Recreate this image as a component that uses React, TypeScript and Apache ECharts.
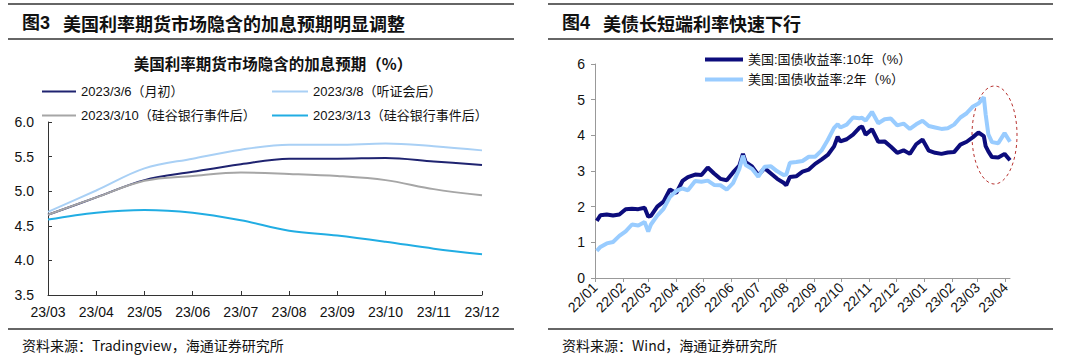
import React, { useEffect, useRef } from "react";
import * as echarts from "echarts";

// ---------- Left chart data (Fed funds futures implied rates, %) ----------
const months = ["23/03", "23/04", "23/05", "23/06", "23/07", "23/08", "23/09", "23/10", "23/11", "23/12"];
const exp0306 = [4.66, 4.91, 5.16, 5.28, 5.39, 5.47, 5.47, 5.48, 5.43, 5.38];
const exp0308 = [4.70, 5.01, 5.33, 5.47, 5.60, 5.67, 5.67, 5.69, 5.65, 5.59];
const exp0310 = [4.66, 4.91, 5.15, 5.22, 5.27, 5.25, 5.22, 5.16, 5.03, 4.94];
const exp0313 = [4.59, 4.69, 4.73, 4.69, 4.58, 4.43, 4.36, 4.27, 4.17, 4.09];
const leftNames = ["2023/3/6（月初）", "2023/3/8（听证会后）", "2023/3/10（硅谷银行事件后）", "2023/3/13（硅谷银行事件后）"];

// ---------- Right chart data (US Treasury yields, %) ----------
const yieldDates = [
  "2022-01-03", "2022-01-07", "2022-01-14", "2022-01-21", "2022-01-28", "2022-02-04", "2022-02-11", "2022-02-18",
  "2022-02-25", "2022-03-01", "2022-03-04", "2022-03-11", "2022-03-18", "2022-03-25", "2022-04-01", "2022-04-08",
  "2022-04-14", "2022-04-22", "2022-04-29", "2022-05-06", "2022-05-13", "2022-05-20", "2022-05-27", "2022-06-03",
  "2022-06-10", "2022-06-14", "2022-06-17", "2022-06-24", "2022-07-01", "2022-07-08", "2022-07-15", "2022-07-22",
  "2022-07-29", "2022-08-01", "2022-08-05", "2022-08-12", "2022-08-19", "2022-08-26", "2022-09-02", "2022-09-09",
  "2022-09-16", "2022-09-23", "2022-09-27", "2022-09-30", "2022-10-07", "2022-10-14", "2022-10-21", "2022-10-24",
  "2022-10-28", "2022-11-04", "2022-11-11", "2022-11-18", "2022-11-25", "2022-12-02", "2022-12-09", "2022-12-16",
  "2022-12-23", "2022-12-30", "2023-01-06", "2023-01-13", "2023-01-20", "2023-01-27", "2023-02-03", "2023-02-10",
  "2023-02-17", "2023-02-24", "2023-03-02", "2023-03-08", "2023-03-10", "2023-03-13", "2023-03-17", "2023-03-24",
  "2023-03-31", "2023-04-06",
];
const ust10y = [
  1.60, 1.76, 1.78, 1.75, 1.78, 1.93, 1.94, 1.93,
  1.97, 1.72, 1.74, 2.00, 2.14, 2.48, 2.38, 2.72,
  2.83, 2.90, 2.89, 3.10, 2.93, 2.78, 2.74, 2.96,
  3.15, 3.48, 3.25, 3.13, 2.88, 3.08, 2.93, 2.78,
  2.67, 2.60, 2.83, 2.85, 2.98, 3.04, 3.20, 3.32,
  3.45, 3.69, 3.96, 3.83, 3.89, 4.02, 4.21, 4.25,
  4.02, 4.17, 3.82, 3.83, 3.68, 3.51, 3.58, 3.48,
  3.75, 3.88, 3.57, 3.51, 3.48, 3.52, 3.53, 3.74,
  3.82, 3.95, 4.08, 3.98, 3.70, 3.55, 3.39, 3.38,
  3.48, 3.30,
];
const ust2y = [
  0.76, 0.87, 0.97, 1.01, 1.18, 1.31, 1.50, 1.47,
  1.57, 1.30, 1.50, 1.75, 1.94, 2.27, 2.44, 2.51,
  2.46, 2.72, 2.70, 2.73, 2.61, 2.60, 2.48, 2.66,
  3.06, 3.43, 3.17, 3.06, 2.84, 3.12, 3.13, 2.99,
  2.89, 2.90, 3.23, 3.25, 3.28, 3.40, 3.40, 3.57,
  3.87, 4.21, 4.31, 4.22, 4.30, 4.50, 4.48, 4.49,
  4.41, 4.66, 4.34, 4.45, 4.47, 4.28, 4.33, 4.18,
  4.31, 4.41, 4.26, 4.22, 4.18, 4.20, 4.30, 4.50,
  4.62, 4.81, 4.89, 5.07, 4.59, 4.03, 3.81, 3.78,
  4.06, 3.82,
];
const rightNames = ["美国:国债收益率:10年（%）", "美国:国债收益率:2年（%）"];

const toTs = (s: string) => {
  const [y, m, d] = s.split("-").map(Number);
  return Date.UTC(y, m - 1, d);
};

const FONT = "'Liberation Sans', 'Noto Sans CJK SC', sans-serif";
const CJK = "'Noto Sans CJK SC', 'Liberation Sans', sans-serif";

export default function App() {
  const ref = useRef<HTMLDivElement>(null);
  useEffect(() => {
    if (!ref.current) return;
    const chart = echarts.init(ref.current, undefined, { renderer: "svg" });
    const leftColors = ["#1f2370", "#a9d0f5", "#a6a6a6", "#21ade3"];
    const leftData = [exp0306, exp0308, exp0310, exp0313];
    const rule = (x1: number, x2: number, y: number, w = 1.3) => ({
      type: "line",
      shape: { x1, y1: y, x2, y2: y },
      style: { stroke: "#333", lineWidth: w },
      silent: true,
    });
    const txt = (x: number, y: number, text: string, fontSize: number, weight: any = "normal", align: any = "left", family = CJK) => ({
      type: "text",
      x,
      y,
      style: { text, fontSize, fontWeight: weight, fontFamily: family, fill: "#111", align, verticalAlign: "middle" },
      silent: true,
    });
    const option: any = {
      animation: false,
      useUTC: true,
      backgroundColor: "#fff",
      textStyle: { fontFamily: FONT },
      graphic: [
        rule(8, 514, 4),
        rule(8, 514, 39),
        rule(8, 514, 329),
        rule(548, 1053, 4),
        rule(548, 1053, 39),
        rule(548, 1053, 329),
        txt(22, 23, "图3", 18, "bold", "left", FONT),
        txt(63, 23, "美国利率期货市场隐含的加息预期明显调整", 18, "bold"),
        txt(562, 23, "图4", 18, "bold", "left", FONT),
        txt(603, 23, "美债长短端利率快速下行", 18, "bold"),
        txt(273, 63, "美国利率期货市场隐含的加息预期（%）", 15.5, "bold", "center"),
        txt(22, 345, "资料来源：Tradingview，海通证券研究所", 14),
        txt(562, 345, "资料来源：Wind，海通证券研究所", 14),
        {
          type: "ellipse",
          shape: { cx: 994.5, cy: 135, rx: 22.5, ry: 49 },
          style: { fill: "none", stroke: "#b8322f", lineWidth: 1, lineDash: [3, 3] },
          silent: true,
        },
      ],
      legend: [
        {
          data: [leftNames[0], leftNames[2]],
          orient: "vertical",
          left: 37,
          top: 80,
          icon: "rect",
          itemWidth: 34,
          itemHeight: 2,
          itemGap: 11,
          textStyle: { fontSize: 13, color: "#111", fontFamily: FONT },
        },
        {
          data: [leftNames[1], leftNames[3]],
          orient: "vertical",
          left: 267,
          top: 80,
          icon: "rect",
          itemWidth: 36,
          itemHeight: 2,
          itemGap: 11,
          textStyle: { fontSize: 13, color: "#111", fontFamily: FONT },
        },
        {
          data: rightNames,
          orient: "vertical",
          left: 700,
          top: 48,
          icon: "rect",
          itemWidth: 38,
          itemHeight: 4,
          itemGap: 7,
          textStyle: { fontSize: 13, color: "#111", fontFamily: FONT },
        },
      ],
      grid: [
        { left: 48, top: 122, width: 434, height: 173, containLabel: false },
        { left: 595, top: 64, width: 415, height: 214, containLabel: false },
      ],
      xAxis: [
        {
          type: "category",
          gridIndex: 0,
          data: months,
          boundaryGap: false,
          axisLine: { lineStyle: { color: "#333", width: 1 } },
          axisTick: { inside: true, length: 4, lineStyle: { color: "#333" } },
          axisLabel: { fontSize: 14, color: "#111", margin: 10, fontFamily: FONT },
          splitLine: { show: false },
        },
        {
          type: "time",
          gridIndex: 1,
          min: toTs("2022-01-01"),
          max: toTs("2023-04-06"),
          splitNumber: 15,
          minInterval: 28 * 86400000,
          maxInterval: 31 * 86400000,
          axisLine: { lineStyle: { color: "#999", width: 1 } },
          axisTick: { show: true, length: 4, lineStyle: { color: "#999" } },
          axisLabel: {
            rotate: 45,
            fontSize: 14,
            color: "#111",
            margin: 7,
            fontFamily: FONT,
            showMaxLabel: false,
            formatter: (v: number) => {
              const d = new Date(v);
              if (d.getUTCDate() !== 1) return "";
              const yy = String(d.getUTCFullYear()).slice(2);
              const mm = String(d.getUTCMonth() + 1).padStart(2, "0");
              return yy + "/" + mm;
            },
          },
          splitLine: { show: false },
        },
      ],
      yAxis: [
        {
          type: "value",
          gridIndex: 0,
          min: 3.5,
          max: 6.0,
          interval: 0.5,
          axisLine: { show: true, lineStyle: { color: "#333", width: 1 } },
          axisTick: { show: true, inside: true, length: 4, lineStyle: { color: "#333" } },
          axisLabel: { fontSize: 14, color: "#111", margin: 14, fontFamily: FONT, formatter: (v: number) => v.toFixed(1) },
          splitLine: { show: false },
        },
        {
          type: "value",
          gridIndex: 1,
          min: 0,
          max: 6,
          interval: 1,
          axisLine: { show: true, lineStyle: { color: "#999", width: 1 } },
          axisTick: { show: true, length: 4, lineStyle: { color: "#999" } },
          axisLabel: { fontSize: 14, color: "#111", margin: 10, fontFamily: FONT },
          splitLine: { show: false },
        },
      ],
      series: [
        ...leftData.map((d, i) => ({
          name: leftNames[i],
          type: "line",
          xAxisIndex: 0,
          yAxisIndex: 0,
          data: d,
          smooth: 0.35,
          showSymbol: false,
          symbol: "none",
          lineStyle: { width: 2, color: leftColors[i] },
          itemStyle: { color: leftColors[i] },
          z: 2 + (i === 1 ? 0 : 1),
        })),
        {
          name: rightNames[0],
          type: "line",
          xAxisIndex: 1,
          yAxisIndex: 1,
          data: yieldDates.map((d, i) => [toTs(d), ust10y[i]]),
          symbol: "none",
          lineStyle: { width: 4, color: "#0c0c7c" },
          itemStyle: { color: "#0c0c7c" },
          z: 2,
        },
        {
          name: rightNames[1],
          type: "line",
          xAxisIndex: 1,
          yAxisIndex: 1,
          data: yieldDates.map((d, i) => [toTs(d), ust2y[i]]),
          symbol: "none",
          lineStyle: { width: 4, color: "#99ccff" },
          itemStyle: { color: "#99ccff" },
          z: 3,
        },
      ],
    };
    chart.setOption(option);
    return () => chart.dispose();
  }, []);
  return (
    <div
      ref={ref}
      style={{ position: "fixed", left: 0, top: 0, width: 1080, height: 358, background: "#fff" }}
    />
  );
}
